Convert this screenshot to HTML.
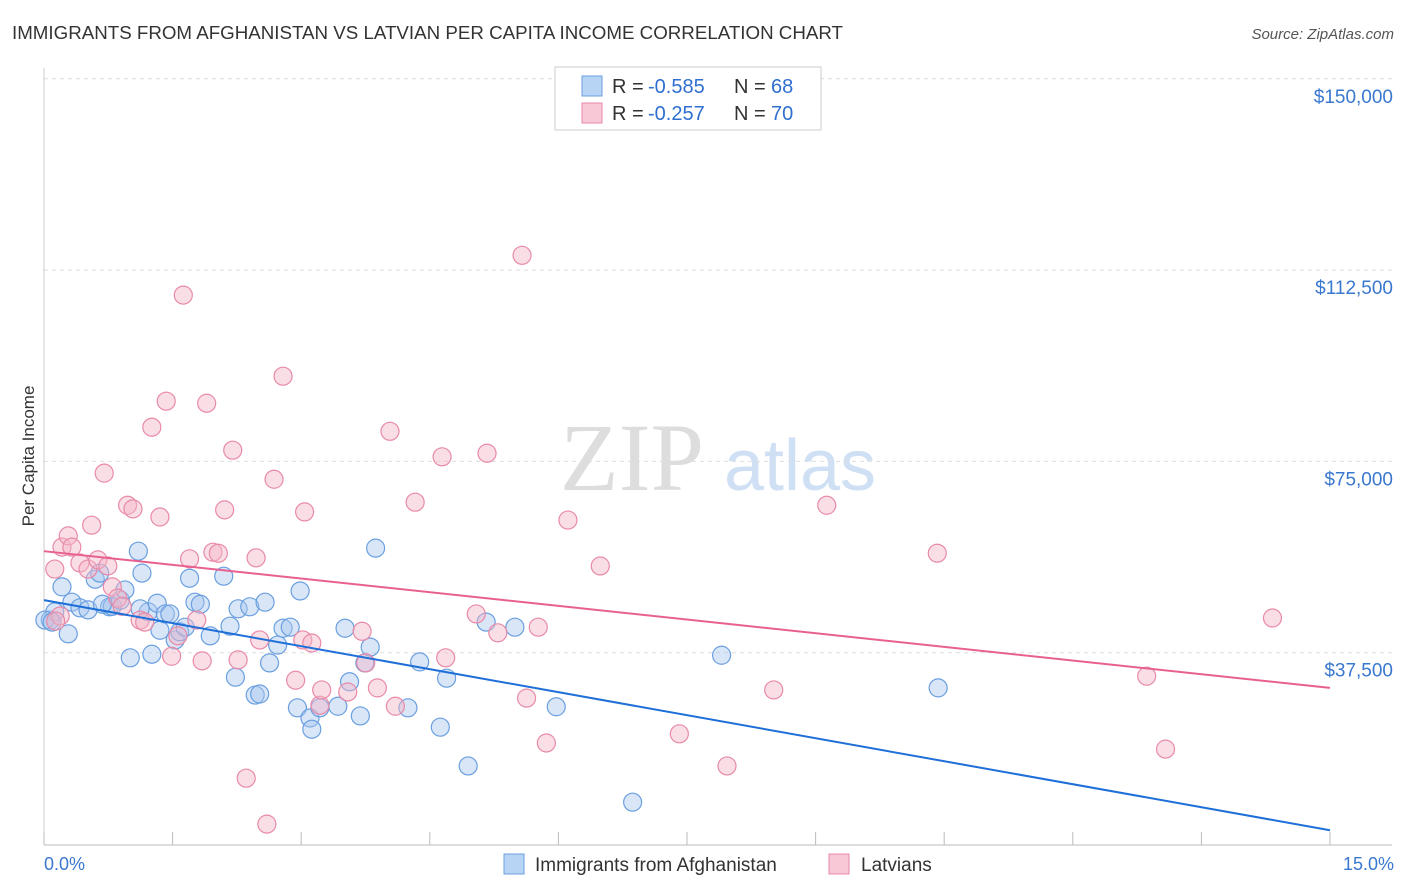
<!DOCTYPE html>
<html><head><meta charset="utf-8"><style>
body{margin:0;background:#fff;font-family:"Liberation Sans",sans-serif;}
svg{display:block}
</style></head><body>
<svg id="chart" width="1406" height="892" xmlns="http://www.w3.org/2000/svg">
<text x="12" y="39" font-size="18" fill="#333" textLength="831" lengthAdjust="spacingAndGlyphs">IMMIGRANTS FROM AFGHANISTAN VS LATVIAN PER CAPITA INCOME CORRELATION CHART</text>
<text x="1394" y="39" font-size="15" fill="#555" text-anchor="end" font-style="italic">Source: ZipAtlas.com</text>
<g>
<text x="632" y="490" font-size="96" fill="#ddd" text-anchor="middle" font-family="Liberation Serif, serif">ZIP</text>
<text x="800" y="490" font-size="72" fill="#cfe0f5" text-anchor="middle">atlas</text>
</g>
<g id="grid"></g><g id="axes"></g><g id="pts"></g><g id="trends"></g>
<text transform="translate(34,456) rotate(-90)" font-size="17" fill="#333" text-anchor="middle">Per Capita Income</text>
<text x="44" y="870" font-size="18" fill="#3a78d0">0.0%</text>
<text x="1394" y="870" font-size="18" fill="#3a78d0" text-anchor="end">15.0%</text>
<g>
<rect x="555" y="67" width="266" height="63" fill="#fff" stroke="#ccc"/>
<rect x="582" y="76" width="20" height="20" fill="#b8d4f5" stroke="#6a9fe0"/>
<text x="612" y="93" font-size="20" fill="#333">R =</text>
<text x="648" y="93" font-size="20" fill="#2f6fd0">-0.585</text>
<text x="734" y="93" font-size="20" fill="#333">N =</text>
<text x="771" y="93" font-size="20" fill="#2f6fd0">68</text>
<rect x="582" y="103" width="20" height="20" fill="#f9c8d6" stroke="#e88aa8"/>
<text x="612" y="120" font-size="20" fill="#333">R =</text>
<text x="648" y="120" font-size="20" fill="#2f6fd0">-0.257</text>
<text x="734" y="120" font-size="20" fill="#333">N =</text>
<text x="771" y="120" font-size="20" fill="#2f6fd0">70</text>
</g>
<g>
<rect x="504" y="854" width="20" height="20" fill="#b8d4f5" stroke="#6a9fe0"/>
<text x="535" y="871" font-size="19" fill="#333">Immigrants from Afghanistan</text>
<rect x="829" y="854" width="20" height="20" fill="#f9c8d6" stroke="#e88aa8"/>
<text x="861" y="871" font-size="19" fill="#333">Latvians</text>
</g>
</svg>
<script>
const yTicks=[37500,75000,112500,150000];
const yTickLabels=["$37,500","$75,000","$112,500","$150,000"];
const xTicks=[0,1.431,2.862,4.293,5.724,7.155,8.586,10.017,11.448,12.879,14.31];
const blueX=[0.07,0.12,0.20,0.27,0.31,0.40,0.49,0.57,0.62,0.73,0.76,0.85,0.90,0.96,1.05,1.09,1.16,1.20,1.26,1.29,1.35,1.40,1.46,1.51,1.57,1.62,1.68,1.74,1.85,2.00,2.07,2.13,2.16,2.29,2.35,2.40,2.46,2.51,2.60,2.66,2.74,2.82,2.85,2.96,2.98,3.07,3.27,3.35,3.40,3.52,3.57,3.63,3.69,4.05,4.18,4.41,4.48,4.72,4.92,5.24,5.70,6.55,7.54,9.95,0.01,0.09,0.65,1.07];
const blueY=[43.9,45.5,50.4,41.2,47.4,46.3,45.9,51.9,53.1,46.5,46.6,47.8,49.8,36.5,57.4,53.1,45.5,37.2,47.2,41.9,45.1,45.1,40.0,41.6,42.5,52.1,47.4,47.0,40.8,52.5,42.7,32.7,46.1,46.5,29.2,29.4,47.4,35.5,39.0,42.3,42.5,26.7,49.6,24.7,22.5,26.7,27.0,42.3,31.8,25.1,35.5,38.6,58.0,26.7,35.7,22.9,32.5,15.3,43.5,42.5,26.9,8.2,37.0,30.6,43.9,43.5,47.0,46.1];
const pinkX=[0.12,0.18,0.20,0.27,0.31,0.40,0.49,0.53,0.60,0.67,0.71,0.76,0.82,0.87,0.93,0.99,1.07,1.12,1.20,1.29,1.36,1.42,1.49,1.55,1.62,1.70,1.76,1.81,1.88,1.94,2.01,2.10,2.16,2.25,2.36,2.40,2.48,2.56,2.66,2.80,2.88,2.90,2.98,3.07,3.09,3.38,3.54,3.58,3.71,3.85,3.91,4.13,4.43,4.47,4.81,4.93,5.05,5.32,5.37,5.50,5.59,5.83,6.19,7.07,7.60,8.12,8.71,9.94,12.27,12.48,13.67,0.13];
const pinkY=[53.9,44.7,58.2,60.4,58.2,55.1,53.9,62.5,55.7,72.7,54.5,50.4,48.2,46.6,66.4,65.7,43.9,43.5,81.7,64.1,86.8,36.8,40.8,107.6,55.9,43.9,35.9,86.4,57.2,57.0,65.5,77.2,36.1,12.9,56.1,40.0,3.9,71.5,91.7,32.1,40.0,65.1,39.4,27.2,30.2,29.8,41.7,35.5,30.6,80.9,27.0,67.0,75.9,36.5,45.1,76.6,41.4,115.4,28.6,42.5,19.8,63.5,54.5,21.6,15.3,30.2,66.4,57.0,32.9,18.6,44.3,43.7];
const blueTrendX=[0,14.31], blueTrendY=[47.8,2.7];
const pinkTrendX=[0,14.31], pinkTrendY=[57.4,30.6];

const NS="http://www.w3.org/2000/svg";
const sx=v=>44+v/15*1348;
const sy=k=>844-k/37.5*191.3;
function mk(t,a,p){const e=document.createElementNS(NS,t);for(const k in a)e.setAttribute(k,a[k]);p.appendChild(e);return e;}
const grid=document.getElementById('grid'),axes=document.getElementById('axes'),pts=document.getElementById('pts'),tr=document.getElementById('trends');
yTicks.forEach((v,i)=>{
 const l=mk('line',{x1:44,x2:1392,y1:sy(v/1000),y2:sy(v/1000),stroke:'#ddd','stroke-dasharray':'4,4'},grid);
 
 
 const t=mk('text',{x:1393,y:sy(v/1000)+24,'font-size':19,fill:'#3a78d0','text-anchor':'end'},grid);
 t.textContent=yTickLabels[i];
 
 
});
const ax=mk('line',{x1:44,x2:1392,y1:845,y2:845,stroke:'#bbb'},axes);


const ay=mk('line',{x1:44,x2:44,y1:68,y2:845,stroke:'#ccc'},axes);


xTicks.forEach(v=>{
 const t=mk('line',{x1:sx(v),x2:sx(v),y1:845,y2:832,stroke:'#bbb'},axes);
 
 
});
function dots(X,Y,fill,stroke,name){
 X.forEach((x,i)=>{
  const c=mk('circle',{cx:sx(x),cy:sy(Y[i]),r:9,fill:fill,'fill-opacity':0.45,stroke:stroke,'stroke-width':1.2},pts);
  
  
 });
}
dots(blueX,blueY,'#a8c8f0','#6a9fe0','afghanistan-point');
dots(pinkX,pinkY,'#f5b5c8','#e88aa8','latvian-point');
const bl=mk('line',{x1:sx(blueTrendX[0]),y1:sy(blueTrendY[0]),x2:sx(blueTrendX[1]),y2:sy(blueTrendY[1]),stroke:'#1f6fd8','stroke-width':2},tr);


const pl=mk('line',{x1:sx(pinkTrendX[0]),y1:sy(pinkTrendY[0]),x2:sx(pinkTrendX[1]),y2:sy(pinkTrendY[1]),stroke:'#e8608f','stroke-width':2},tr);


</script>
</body></html>
